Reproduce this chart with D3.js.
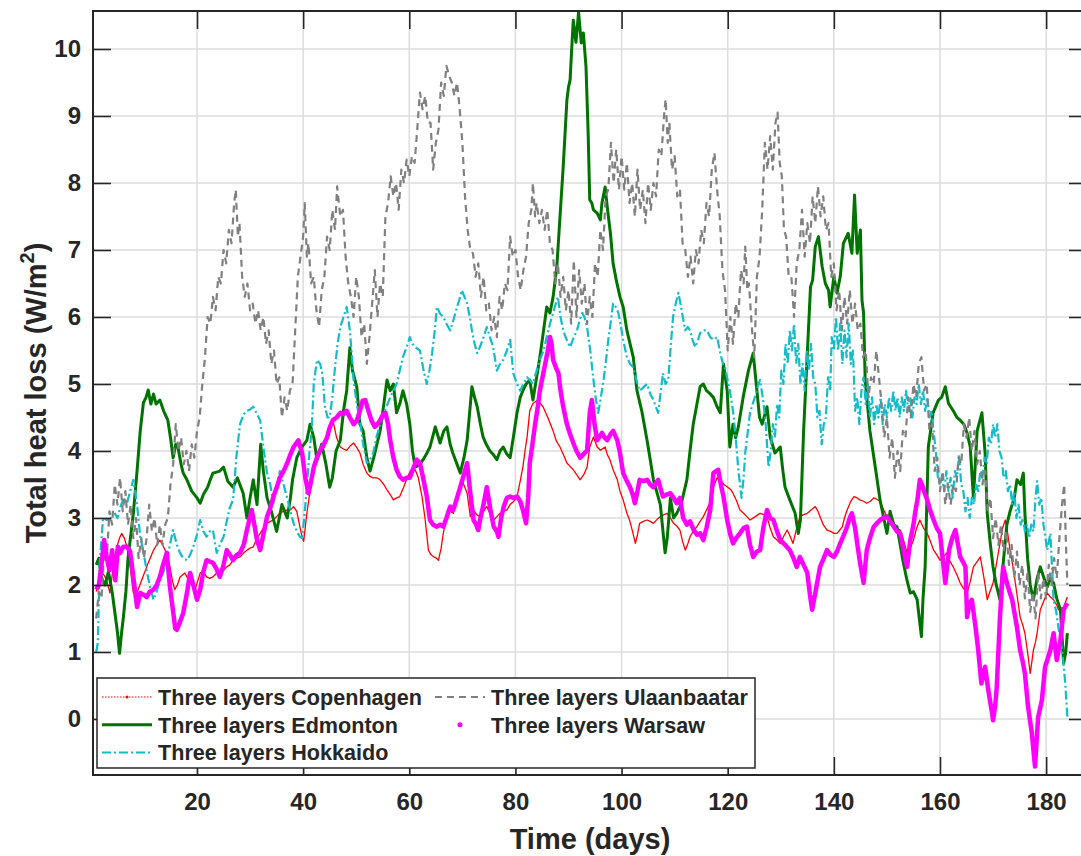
<!DOCTYPE html>
<html>
<head>
<meta charset="utf-8">
<script src="https://cdn.jsdelivr.net/npm/d3@7/dist/d3.min.js"></script>
<style>
  html, body { margin: 0; padding: 0; background: #ffffff; }
  svg { display: block; }
  text { font-family: "Liberation Sans", Arial, Helvetica, sans-serif; font-weight: bold; fill: #262626; }
</style>
</head>
<body>
<svg id="chart" width="1081" height="856"></svg>
<script>
// Daily total heat loss (W/m^2) over the heating season, [day, value] pairs
const copenhagen = [[1.0,1.9],[1.5,2.05],[2.0,2.2],[2.7,2.12],[3.2,2.0],[3.6,1.88],[4.2,2.27],[4.9,2.57],[5.4,2.7],[5.8,2.77],[6.3,2.7],[6.8,2.57],[7.4,2.27],[8.0,1.88],[8.5,1.85],[8.9,1.93],[9.8,2.12],[10.8,2.33],[11.8,2.52],[12.4,2.6],[13.0,2.67],[13.5,2.6],[14.0,2.52],[14.9,2.27],[15.4,2.05],[15.8,1.93],[16.3,2.0],[16.8,2.12],[17.7,2.18],[18.7,2.03],[19.6,1.93],[20.1,2.05],[20.6,2.18],[21.2,2.2],[21.8,2.12],[22.4,2.1],[23.0,2.12],[23.7,2.18],[24.3,2.18],[25.0,2.22],[25.6,2.27],[26.2,2.3],[26.8,2.37],[27.5,2.4],[28.1,2.42],[28.8,2.48],[29.4,2.52],[30.0,2.55],[30.6,2.57],[31.3,2.7],[31.9,2.77],[32.5,2.85],[33.2,2.92],[33.8,2.95],[34.4,2.97],[35.0,3.02],[35.6,3.07],[36.3,3.1],[37.0,3.12],[37.6,3.12],[38.2,3.17],[38.8,3.1],[39.3,2.9],[39.8,2.72],[40.1,2.65],[40.7,3.07],[41.3,3.4],[42.0,3.7],[42.6,3.85],[43.2,3.97],[43.9,4.05],[44.5,4.16],[45.0,4.3],[45.6,4.46],[46.3,4.2],[47.0,4.06],[47.6,4.03],[48.2,4.01],[48.9,4.08],[49.5,4.12],[50.1,4.05],[50.7,3.97],[51.3,3.8],[52.0,3.67],[52.6,3.62],[53.2,3.6],[53.9,3.6],[54.5,3.57],[55.2,3.5],[55.8,3.42],[56.4,3.35],[57.0,3.27],[57.6,3.3],[58.2,3.32],[58.9,3.45],[59.6,3.6],[60.2,3.7],[60.8,3.76],[61.2,3.7],[61.7,3.6],[62.4,3.32],[63.0,2.97],[63.6,2.52],[64.1,2.45],[64.6,2.42],[65.1,2.4],[65.5,2.37],[66.0,2.55],[66.4,2.77],[66.9,2.95],[67.4,3.12],[68.3,3.07],[69.0,3.37],[69.9,3.57],[70.4,3.47],[70.9,3.37],[71.5,3.02],[72.1,3.12],[72.7,3.05],[73.3,3.02],[74.0,3.1],[74.6,3.17],[75.3,3.05],[75.9,2.97],[76.5,3.02],[77.1,3.07],[77.8,3.1],[78.4,3.12],[79.0,3.2],[79.7,3.25],[80.3,3.32],[80.9,3.55],[81.4,3.76],[81.8,4.0],[82.2,4.21],[82.7,4.6],[83.3,4.71],[84.2,4.76],[85.2,4.66],[86.1,4.5],[87.1,4.3],[87.7,4.15],[88.4,4.06],[89.0,3.95],[89.7,3.82],[90.3,3.77],[90.9,3.72],[91.5,3.65],[92.2,3.57],[92.9,3.65],[93.5,3.76],[94.0,4.06],[94.7,4.21],[95.4,4.06],[96.0,4.01],[96.9,4.06],[97.3,3.95],[97.8,3.87],[98.5,3.7],[99.2,3.57],[99.7,3.4],[100.3,3.27],[101.0,3.07],[101.5,2.97],[102.0,2.82],[102.6,2.62],[103.0,2.75],[103.4,2.92],[104.1,2.95],[104.8,2.97],[105.4,2.95],[106.0,2.92],[106.7,2.98],[107.3,3.02],[108.0,3.05],[108.6,3.07],[109.2,3.0],[109.8,2.92],[110.4,2.88],[111.0,2.82],[111.5,2.65],[112.0,2.52],[112.5,2.62],[112.9,2.72],[113.5,2.8],[114.2,2.87],[114.8,2.95],[115.4,3.02],[116.0,3.12],[116.6,3.22],[117.3,3.46],[118.0,3.6],[118.6,3.57],[119.3,3.5],[120.0,3.46],[120.6,3.42],[121.0,3.37],[121.7,3.25],[122.3,3.12],[123.0,3.07],[123.6,3.02],[124.2,2.97],[125.2,3.02],[126.1,3.07],[126.8,3.05],[127.4,3.02],[128.0,2.85],[128.6,2.72],[129.3,2.67],[129.9,2.62],[130.5,2.72],[131.2,2.82],[131.8,2.72],[132.3,2.62],[133.0,2.85],[133.6,3.02],[134.3,3.05],[135.0,3.07],[135.7,3.12],[136.5,3.17],[137.0,3.1],[137.4,3.02],[138.0,2.9],[138.7,2.82],[139.4,2.8],[140.0,2.77],[140.6,2.77],[141.1,2.82],[141.6,2.87],[142.0,3.0],[142.5,3.12],[143.2,3.25],[143.8,3.32],[144.4,3.3],[144.9,3.27],[145.6,3.25],[146.2,3.22],[146.9,3.25],[147.5,3.3],[148.1,3.28],[148.7,3.25],[149.4,3.12],[150.0,3.02],[150.6,2.95],[151.3,2.9],[151.9,2.85],[152.5,2.82],[153.2,2.65],[153.8,2.48],[154.4,2.55],[155.0,2.67],[155.6,2.85],[156.2,2.97],[156.9,2.85],[157.6,2.77],[158.2,2.65],[158.8,2.52],[159.4,2.45],[160.0,2.37],[160.6,2.42],[161.3,2.48],[161.9,2.35],[162.5,2.27],[163.2,2.15],[163.8,2.03],[164.4,1.95],[165.1,1.88],[165.7,2.05],[166.3,2.27],[167.0,2.35],[167.6,2.42],[168.3,2.1],[168.9,1.78],[169.4,1.9],[170.0,2.03],[170.6,2.3],[171.3,2.62],[171.8,2.85],[172.3,2.97],[172.8,2.75],[173.2,2.52],[173.7,2.3],[174.2,2.03],[174.7,1.75],[175.1,1.52],[175.6,1.4],[176.0,1.28],[176.5,1.0],[177.0,0.68],[177.3,0.85],[177.6,1.03],[178.0,1.15],[178.3,1.28],[178.9,1.63],[179.5,1.75],[180.2,1.88],[180.8,1.82],[181.4,1.78],[182.0,1.7],[182.3,1.63],[182.8,1.65],[183.3,1.67],[184.0,1.82]];

const edmonton = [[1.0,2.3],[1.5,2.4],[2.0,2.1],[2.7,2.0],[3.3,2.2],[4.0,1.9],[4.5,1.6],[5.0,1.3],[5.4,0.98],[5.8,1.3],[6.1,1.5],[6.6,1.9],[7.0,2.4],[7.6,2.8],[8.0,3.07],[8.7,3.7],[9.3,4.3],[9.9,4.72],[10.4,4.8],[10.8,4.91],[11.3,4.7],[11.8,4.85],[12.3,4.7],[13.0,4.76],[13.7,4.6],[14.5,4.46],[15.0,4.2],[15.5,3.9],[16.0,4.1],[16.4,4.06],[17.0,3.8],[17.4,3.67],[18.1,3.57],[19.0,3.4],[20.0,3.3],[20.6,3.22],[21.2,3.35],[22.0,3.46],[22.5,3.57],[23.0,3.67],[24.3,3.7],[25.0,3.76],[25.8,3.55],[26.8,3.46],[27.6,3.6],[28.7,3.37],[29.4,3.0],[30.0,3.3],[30.6,3.57],[31.3,3.2],[32.0,4.1],[32.5,3.7],[33.2,3.3],[34.0,3.1],[35.0,2.8],[36.0,3.2],[37.0,3.0],[37.6,3.3],[38.0,3.57],[38.8,3.9],[39.8,4.06],[40.7,4.16],[41.3,4.4],[42.0,4.2],[42.6,3.87],[43.5,4.1],[44.3,3.8],[45.0,3.46],[45.5,3.6],[46.2,4.0],[47.0,4.16],[47.6,4.6],[48.2,4.9],[48.8,5.54],[49.3,5.2],[50.1,4.96],[50.7,4.4],[51.3,4.3],[52.0,3.9],[52.6,3.7],[53.3,3.9],[54.5,4.3],[55.2,4.7],[55.8,5.06],[56.4,4.9],[57.0,5.0],[57.6,4.57],[58.2,4.7],[58.8,4.9],[59.5,4.7],[60.1,4.4],[60.6,4.0],[61.1,3.76],[62.0,3.8],[62.6,3.87],[63.2,3.95],[63.9,4.06],[64.9,4.36],[65.8,4.12],[66.5,4.3],[67.1,4.36],[67.7,4.1],[68.2,3.97],[69.0,3.8],[69.6,3.67],[70.3,3.9],[70.9,4.16],[71.4,4.6],[71.8,4.96],[72.3,4.8],[72.8,4.66],[73.4,4.4],[73.9,4.21],[74.5,4.1],[75.2,4.0],[75.8,3.95],[76.5,3.87],[77.1,4.0],[77.7,4.06],[78.4,3.95],[79.0,3.9],[79.6,4.2],[80.3,4.57],[80.9,4.8],[81.4,4.9],[82.0,5.0],[82.7,5.06],[83.3,4.76],[84.0,5.1],[84.6,5.4],[85.3,5.8],[85.9,6.15],[86.5,6.06],[87.1,6.3],[87.8,6.75],[88.4,7.5],[89.0,8.24],[89.7,9.24],[90.0,9.43],[90.3,9.54],[90.6,10.0],[90.9,10.43],[91.4,10.1],[91.9,10.55],[92.4,10.09],[92.8,10.24],[93.3,9.73],[93.7,8.75],[94.0,7.75],[94.4,7.7],[94.7,7.6],[95.4,7.55],[96.0,7.45],[96.3,7.7],[96.9,7.94],[97.3,7.64],[97.9,7.25],[98.4,6.8],[99.0,6.55],[99.7,6.3],[100.3,6.15],[101.0,5.8],[101.6,5.6],[102.2,5.4],[102.9,4.9],[103.8,4.6],[104.8,4.16],[105.4,3.87],[106.0,3.57],[106.7,3.37],[107.3,3.2],[107.8,2.8],[108.2,2.48],[108.6,2.7],[109.2,3.3],[109.8,3.0],[110.4,3.07],[111.2,3.2],[111.8,3.4],[112.3,3.57],[112.9,4.0],[113.5,4.4],[114.2,4.7],[114.8,4.96],[115.4,5.0],[116.0,4.9],[116.6,4.86],[117.3,4.8],[118.0,4.66],[118.6,4.57],[119.2,5.3],[119.9,4.9],[120.4,4.06],[121.0,4.4],[121.5,4.2],[122.0,4.36],[122.9,4.8],[123.9,5.2],[124.8,5.46],[125.5,4.9],[126.0,4.5],[126.5,4.4],[127.4,4.66],[128.0,4.21],[128.9,3.97],[129.9,4.06],[130.4,3.7],[130.8,3.46],[131.7,3.27],[132.7,3.07],[133.3,2.77],[133.7,2.97],[134.3,4.3],[135.0,5.46],[135.6,6.45],[136.0,6.55],[136.5,7.05],[137.1,7.2],[137.8,6.75],[138.4,6.5],[139.0,6.4],[139.3,6.15],[140.0,6.6],[140.6,6.36],[141.2,6.6],[141.8,7.1],[142.7,7.25],[143.4,6.95],[143.9,7.82],[144.4,6.95],[145.0,7.3],[145.3,6.25],[145.6,6.06],[145.9,5.06],[146.8,4.3],[147.8,3.76],[148.7,3.27],[149.4,3.0],[150.0,2.77],[150.6,3.1],[151.3,2.9],[151.9,2.87],[152.5,2.6],[153.0,2.37],[153.7,2.1],[154.4,1.88],[155.0,1.9],[155.7,1.78],[156.1,1.5],[156.5,1.23],[156.8,1.8],[157.2,2.27],[157.8,4.06],[158.7,4.57],[159.7,4.76],[160.3,4.8],[161.0,4.96],[161.6,4.71],[162.5,4.6],[163.2,4.5],[163.8,4.46],[164.5,4.4],[165.1,4.27],[165.7,4.06],[166.3,3.3],[167.0,4.3],[167.9,4.57],[168.5,3.97],[168.9,3.07],[169.5,2.6],[170.0,2.27],[170.6,2.0],[171.3,1.78],[172.0,2.4],[172.6,2.9],[173.2,3.1],[174.0,3.3],[174.5,3.57],[175.2,3.5],[175.7,3.67],[176.0,3.07],[176.5,2.4],[177.0,2.0],[177.6,1.78],[178.3,2.1],[178.9,2.27],[179.6,2.1],[180.2,1.97],[180.8,2.1],[181.4,2.03],[182.0,1.8],[182.7,1.63],[183.3,0.83],[183.7,1.0],[184.0,1.28]];

const hokkaido = [[1.0,1.0],[1.3,1.13],[1.7,2.37],[2.3,3.0],[3.0,2.97],[3.6,2.97],[4.3,3.1],[5.0,3.0],[5.5,3.15],[6.2,3.3],[6.8,3.22],[7.4,3.4],[8.0,3.57],[8.7,3.2],[9.3,2.72],[10.0,2.45],[10.5,2.22],[11.2,1.95],[11.8,1.78],[12.4,1.9],[13.0,2.07],[13.7,2.2],[14.3,2.37],[14.9,2.6],[15.5,2.82],[16.2,2.6],[16.8,2.48],[17.4,2.4],[18.1,2.37],[18.7,2.45],[19.3,2.57],[20.0,2.75],[20.6,2.97],[21.2,2.8],[21.8,2.72],[22.4,2.8],[23.0,2.82],[23.7,2.48],[24.3,2.6],[25.0,2.72],[25.6,2.95],[26.2,3.16],[26.8,3.27],[27.4,3.9],[28.1,4.4],[28.8,4.55],[29.4,4.6],[30.0,4.62],[30.6,4.66],[31.3,4.55],[31.9,4.46],[32.5,4.06],[33.2,3.67],[33.8,3.5],[34.4,3.22],[35.0,3.45],[35.6,3.7],[36.3,3.5],[37.0,3.3],[37.6,3.1],[38.2,2.92],[38.8,2.8],[39.4,2.72],[39.8,2.7],[40.2,3.0],[40.7,3.46],[41.2,4.0],[41.6,4.3],[42.0,5.0],[42.6,5.36],[43.2,5.3],[43.6,5.16],[44.1,4.66],[44.6,4.5],[45.0,4.5],[45.5,4.8],[46.0,5.25],[46.5,5.6],[47.0,5.85],[47.6,6.0],[48.2,6.15],[48.8,5.8],[49.2,5.4],[49.5,5.06],[50.1,4.7],[50.7,4.46],[51.3,4.1],[52.0,3.82],[52.6,3.87],[53.2,3.97],[53.8,4.2],[54.5,4.4],[55.4,4.6],[56.4,4.8],[57.0,4.9],[57.6,5.0],[58.2,5.2],[58.8,5.4],[59.5,5.55],[60.1,5.7],[60.6,5.6],[61.1,5.55],[62.0,5.5],[62.7,5.2],[63.3,5.0],[63.8,5.2],[64.3,5.46],[64.8,5.8],[65.2,6.15],[65.8,6.05],[66.4,6.0],[67.0,5.9],[67.7,5.8],[68.3,5.95],[69.0,6.15],[69.4,6.25],[69.9,6.4],[70.4,6.3],[70.9,6.2],[71.4,6.0],[71.8,5.8],[72.3,5.6],[72.8,5.46],[73.3,5.55],[74.0,5.7],[74.6,5.85],[75.2,5.7],[75.8,5.55],[76.5,5.2],[77.1,5.3],[77.7,5.36],[78.4,5.5],[79.0,5.66],[79.6,5.16],[80.3,5.0],[80.9,4.9],[81.5,5.0],[82.2,5.1],[82.8,5.05],[83.3,5.0],[84.0,5.2],[84.6,5.36],[85.3,5.5],[85.9,5.7],[86.5,5.9],[87.1,6.06],[87.6,6.2],[88.0,6.3],[88.5,6.0],[89.0,5.8],[89.7,5.65],[90.3,5.55],[91.0,5.7],[91.6,5.8],[92.1,5.95],[92.6,6.06],[93.0,6.0],[93.5,5.85],[94.1,5.5],[94.7,5.06],[95.2,4.75],[95.6,4.57],[96.1,4.8],[96.6,5.06],[97.0,5.3],[97.5,5.66],[98.0,5.95],[98.4,6.2],[98.9,6.15],[99.4,6.06],[99.9,5.85],[100.3,5.66],[101.0,5.4],[101.6,5.3],[102.2,5.25],[102.8,5.05],[103.4,4.9],[104.1,4.95],[104.8,5.0],[105.4,4.85],[106.0,4.76],[106.5,4.65],[106.9,4.57],[107.4,4.9],[107.8,5.16],[108.3,5.0],[108.8,5.06],[109.2,5.5],[109.7,6.0],[110.2,6.2],[110.7,6.36],[111.1,6.2],[111.4,6.06],[112.0,5.8],[112.5,5.85],[112.9,5.8],[113.4,5.65],[113.9,5.55],[114.4,5.65],[114.8,5.76],[115.5,5.8],[116.1,5.8],[116.7,5.7],[117.3,5.66],[118.0,5.7],[118.6,5.46],[119.1,5.3],[119.5,5.25],[120.0,5.05],[120.4,4.9],[121.0,4.6],[121.4,4.3],[122.0,3.72],[122.6,3.3],[123.0,3.6],[123.3,3.97],[123.8,4.3],[124.2,4.57],[124.7,4.7],[125.1,4.8],[125.6,4.95],[126.1,5.06],[126.6,4.8],[127.1,4.46],[127.7,3.76],[128.1,4.0],[128.5,4.4],[128.9,4.2],[129.3,4.7],[129.7,4.5],[130.1,5.2],[130.5,5.0],[130.9,5.6],[131.3,5.3],[131.7,5.8],[132.1,5.5],[132.5,5.9],[132.9,5.3],[133.3,5.6],[133.7,5.0],[134.1,5.3],[134.5,4.9],[134.9,5.5],[135.3,5.2],[135.7,5.6],[136.1,5.1],[136.5,5.0],[136.9,4.5],[137.3,4.6],[137.7,4.1],[138.1,4.4],[138.5,4.5],[138.9,5.1],[139.3,4.9],[139.6,5.7],[140.0,5.5],[140.4,6.0],[140.8,5.5],[141.2,5.9],[141.6,5.3],[142.0,5.8],[142.4,5.4],[142.8,5.9],[143.2,5.3],[143.6,5.5],[144.0,4.6],[144.4,4.8],[144.8,4.4],[145.2,4.9],[145.6,5.1],[146.0,4.7],[146.4,5.0],[146.8,4.5],[147.2,4.8],[147.6,4.4],[148.0,4.7],[148.4,4.5],[148.8,4.8],[149.2,4.4],[149.6,4.7],[150.0,4.5],[150.4,4.8],[150.8,4.6],[151.2,4.9],[151.6,4.6],[152.0,4.8],[152.4,4.5],[152.8,4.8],[153.2,4.6],[153.6,4.9],[154.0,4.6],[154.4,4.8],[154.8,4.5],[155.2,4.8],[155.6,4.7],[156.0,5.0],[156.4,4.7],[156.8,4.9],[157.2,4.6],[157.6,4.8],[158.0,4.5],[158.4,4.6],[158.8,4.3],[159.2,4.0],[159.6,3.6],[160.0,3.5],[160.4,3.6],[160.8,3.4],[161.2,3.7],[161.6,3.4],[162.0,3.6],[162.4,3.3],[162.8,3.7],[163.2,3.6],[163.6,3.95],[164.0,3.5],[164.4,3.4],[164.8,3.1],[165.2,3.3],[165.6,3.0],[166.0,3.3],[166.4,3.2],[166.8,3.5],[167.2,3.4],[167.6,3.7],[168.0,3.6],[168.4,3.9],[168.8,3.8],[169.2,4.2],[169.6,4.1],[170.0,4.4],[170.4,4.2],[170.8,4.4],[171.2,4.0],[171.6,3.9],[172.0,3.6],[172.4,3.7],[172.8,3.4],[173.2,3.5],[173.6,3.2],[174.0,3.4],[174.4,3.0],[174.8,3.2],[175.2,2.9],[175.6,3.0],[176.0,2.8],[176.4,2.9],[176.8,2.7],[177.2,2.9],[177.6,2.8],[178.0,3.3],[178.3,3.55],[178.7,3.2],[179.1,3.3],[179.5,2.9],[180.2,2.52],[180.8,2.77],[181.4,1.78],[181.9,1.6],[182.3,1.37],[182.7,1.2],[183.0,1.03],[183.3,0.8],[183.6,0.53],[184.0,0.03]];

const ulaanbaatar = [[1.0,1.5],[1.5,1.9],[2.0,1.8],[2.5,2.5],[3.0,2.4],[3.5,3.1],[4.0,2.9],[4.5,3.5],[5.0,3.2],[5.5,3.6],[6.0,3.1],[6.5,3.4],[7.0,2.9],[7.5,3.2],[8.0,2.7],[8.5,3.0],[9.0,2.4],[9.5,2.7],[10.0,2.4],[10.5,2.7],[11.0,3.2],[11.5,2.8],[12.0,3.0],[12.5,2.6],[13.0,2.9],[13.5,2.6],[14.0,2.9],[14.5,3.0],[15.0,3.5],[15.5,3.8],[16.0,4.4],[16.5,4.0],[17.0,4.2],[17.5,3.8],[18.0,4.0],[18.5,3.7],[19.0,4.1],[19.5,3.9],[20.0,4.3],[20.5,4.5],[21.0,5.0],[21.5,5.4],[22.0,6.0],[22.5,5.9],[23.0,6.3],[23.5,6.1],[24.0,6.6],[24.5,6.5],[25.0,7.0],[25.5,6.8],[26.0,7.3],[26.5,7.1],[27.0,7.7],[27.3,7.9],[27.7,7.2],[28.0,7.4],[28.5,6.6],[29.0,6.3],[29.5,6.5],[30.0,6.1],[30.5,6.2],[31.0,5.9],[31.5,6.1],[32.0,5.8],[32.5,6.0],[33.0,5.6],[33.5,5.8],[34.0,5.3],[34.5,5.5],[35.0,5.0],[35.5,5.1],[36.0,4.5],[36.5,4.8],[37.0,4.6],[37.5,4.9],[38.0,5.0],[38.5,5.8],[39.0,6.6],[39.5,6.9],[40.0,7.2],[40.3,7.7],[40.7,6.9],[41.0,7.1],[41.5,6.5],[42.0,6.6],[42.5,6.1],[43.0,5.85],[43.5,6.4],[44.0,6.6],[44.5,7.2],[45.0,7.0],[45.5,7.6],[46.0,7.3],[46.4,7.95],[47.0,7.5],[47.5,7.6],[48.0,6.9],[48.5,6.5],[49.0,6.3],[49.5,6.0],[50.0,6.6],[50.5,6.3],[51.0,5.7],[51.5,5.9],[52.0,5.3],[52.5,5.7],[53.0,6.2],[53.5,6.7],[54.0,6.0],[54.5,6.5],[55.0,6.3],[55.5,7.5],[56.0,7.7],[56.5,8.1],[57.0,7.8],[57.5,8.0],[58.0,7.6],[58.5,8.2],[59.0,8.0],[59.5,8.35],[60.0,8.1],[60.5,8.4],[61.0,8.3],[61.5,8.8],[62.0,9.35],[62.5,9.1],[63.0,9.3],[63.5,8.9],[64.0,8.9],[64.5,8.2],[65.0,8.6],[65.5,8.8],[66.0,9.5],[66.5,9.3],[67.0,9.75],[67.5,9.6],[68.0,9.5],[68.5,9.3],[69.0,9.5],[69.5,9.1],[70.0,8.6],[70.5,7.8],[71.0,7.3],[71.5,7.0],[72.0,6.95],[72.5,6.6],[73.0,6.8],[73.5,6.3],[74.0,6.6],[74.5,6.1],[75.0,6.2],[75.5,5.8],[76.0,6.0],[76.5,5.7],[77.0,6.3],[77.5,6.1],[78.0,6.5],[78.5,6.4],[79.0,7.2],[79.5,6.9],[80.0,7.0],[80.5,6.6],[81.0,6.4],[81.5,6.7],[82.0,6.9],[82.5,7.4],[83.0,7.6],[83.3,8.0],[83.7,7.5],[84.0,7.7],[84.5,7.4],[85.0,7.6],[85.5,7.3],[86.0,7.6],[86.5,7.1],[87.0,7.0],[87.5,6.5],[88.0,6.8],[88.5,6.3],[89.0,6.6],[89.5,6.1],[90.0,6.4],[90.5,5.9],[91.0,6.85],[91.5,6.0],[92.0,6.7],[92.5,6.2],[93.0,6.5],[93.5,5.9],[94.0,6.3],[94.5,6.0],[95.0,6.8],[95.5,6.6],[96.0,7.3],[96.5,7.0],[97.0,7.8],[97.5,7.9],[98.0,8.6],[98.5,8.0],[99.0,8.5],[99.5,7.9],[100.0,8.4],[100.5,7.9],[101.0,8.3],[101.5,7.7],[102.0,8.0],[102.5,7.5],[103.0,8.2],[103.5,7.6],[104.0,7.9],[104.5,7.4],[105.0,8.0],[105.5,7.6],[106.0,8.0],[106.5,7.8],[107.0,8.5],[107.5,8.4],[108.0,9.0],[108.3,9.25],[108.7,8.6],[109.0,8.9],[109.5,8.2],[110.0,8.4],[110.5,7.8],[111.0,7.9],[111.5,7.1],[112.0,7.0],[112.5,6.6],[113.0,6.9],[113.5,6.5],[114.0,7.0],[114.5,6.8],[115.0,7.3],[115.5,7.1],[116.0,7.7],[116.5,7.5],[117.0,8.2],[117.5,8.45],[118.0,7.9],[118.5,7.5],[119.0,6.7],[119.5,6.4],[120.0,5.5],[120.5,6.0],[121.0,5.6],[121.5,6.2],[122.0,6.0],[122.5,6.7],[123.0,6.5],[123.3,7.05],[123.7,6.4],[124.0,6.5],[124.5,5.9],[125.0,5.4],[125.5,6.6],[126.0,6.9],[126.5,7.6],[127.0,8.6],[127.5,8.2],[128.0,8.7],[128.5,8.2],[129.0,8.9],[129.4,9.05],[129.8,8.3],[130.2,8.1],[130.6,7.3],[131.0,7.2],[131.5,6.6],[132.0,6.6],[132.5,6.0],[133.0,6.8],[133.5,7.0],[134.0,7.6],[134.5,6.9],[135.0,7.4],[135.5,7.1],[136.0,7.8],[136.5,7.4],[137.0,7.95],[137.5,7.5],[138.0,7.8],[138.5,7.3],[139.0,7.4],[139.5,6.6],[140.0,6.8],[140.5,6.1],[141.0,6.4],[141.5,5.8],[142.0,6.3],[142.5,5.9],[143.0,6.4],[143.5,5.9],[144.0,6.2],[144.5,5.8],[145.0,5.9],[145.5,5.4],[146.0,5.5],[146.5,4.8],[147.0,5.1],[147.5,5.0],[148.0,5.5],[148.5,5.1],[149.0,4.7],[149.5,4.2],[150.0,4.5],[150.5,3.9],[151.0,4.2],[151.5,3.6],[152.0,4.0],[152.5,3.7],[153.0,4.3],[153.5,4.2],[154.0,4.8],[154.5,4.5],[155.0,5.0],[155.5,4.8],[156.0,5.3],[156.5,5.4],[157.0,4.9],[157.5,5.0],[158.0,4.3],[158.5,4.4],[159.0,3.7],[159.5,3.9],[160.0,3.4],[160.5,3.7],[161.0,3.2],[161.5,3.5],[162.0,3.2],[162.5,3.5],[163.0,3.4],[163.5,3.9],[164.0,3.8],[164.5,4.4],[165.0,4.2],[165.5,4.5],[166.0,4.0],[166.5,4.3],[167.0,3.8],[167.5,4.0],[168.0,3.5],[168.5,3.7],[169.0,3.1],[169.5,3.3],[170.0,2.7],[170.5,3.0],[171.0,2.6],[171.5,2.9],[172.0,2.5],[172.5,2.8],[173.0,2.3],[173.5,2.6],[174.0,2.1],[174.5,2.5],[175.0,2.0],[175.5,2.3],[176.0,1.8],[176.5,2.2],[177.0,1.6],[177.5,1.9],[178.0,1.5],[178.5,2.2],[179.0,1.8],[179.5,2.1],[180.0,1.8],[180.5,2.3],[181.0,2.0],[181.5,2.4],[182.0,2.1],[182.5,2.7],[183.0,3.2],[183.4,3.5],[183.7,2.7],[184.0,2.0]];

const warsaw = [[1.0,1.93],[1.5,2.0],[2.0,2.3],[2.5,2.67],[3.0,2.4],[3.5,2.22],[4.0,2.52],[4.6,2.07],[5.1,2.57],[5.5,2.48],[6.1,2.57],[6.8,2.57],[7.4,2.5],[8.0,2.12],[8.7,1.67],[9.3,1.88],[10.0,1.85],[10.5,1.82],[11.1,1.9],[11.8,1.93],[12.4,2.0],[13.0,2.12],[13.6,2.3],[14.3,2.48],[14.9,1.97],[15.5,1.6],[15.9,1.35],[16.2,1.33],[16.8,1.45],[17.4,1.58],[18.1,1.88],[18.7,2.18],[19.3,2.0],[20.0,1.78],[20.6,1.93],[21.2,2.2],[21.8,2.37],[22.4,2.35],[23.0,2.33],[23.6,2.25],[24.3,2.12],[25.0,2.3],[25.6,2.52],[26.2,2.45],[26.8,2.37],[27.5,2.45],[28.1,2.48],[28.8,2.6],[29.4,2.82],[30.3,3.12],[30.8,2.9],[31.3,2.67],[31.9,2.52],[32.5,2.75],[33.2,3.02],[33.8,3.15],[34.4,3.32],[35.0,3.45],[35.6,3.6],[36.3,3.7],[37.0,3.82],[37.6,3.95],[38.2,4.06],[39.1,4.16],[39.8,3.97],[40.4,3.6],[41.0,3.37],[41.5,3.55],[42.0,3.76],[42.6,3.9],[43.2,4.01],[43.9,4.1],[44.5,4.2],[45.0,4.35],[45.6,4.46],[46.3,4.5],[47.0,4.57],[47.6,4.55],[48.2,4.6],[48.8,4.5],[49.5,4.4],[50.1,4.45],[50.7,4.6],[51.2,4.75],[51.7,4.76],[52.3,4.6],[52.9,4.45],[53.5,4.36],[54.0,4.4],[54.5,4.46],[55.1,4.55],[55.5,4.57],[56.0,4.4],[56.4,4.16],[57.0,3.9],[57.6,3.72],[58.2,3.62],[58.8,3.57],[59.5,3.6],[60.1,3.6],[60.8,3.75],[61.4,3.87],[62.0,3.82],[62.6,3.6],[63.3,3.32],[63.9,2.97],[64.5,2.9],[65.2,2.87],[65.8,2.9],[66.4,2.87],[67.0,3.0],[67.7,3.17],[68.3,3.12],[69.0,3.3],[69.6,3.46],[70.3,3.65],[70.9,3.82],[71.5,3.37],[72.1,2.97],[72.6,2.9],[73.0,2.82],[73.4,3.0],[73.9,3.17],[74.6,3.46],[75.3,3.12],[75.9,2.87],[76.5,2.8],[76.8,2.72],[77.3,3.0],[77.8,3.17],[78.4,3.3],[79.0,3.32],[79.6,3.3],[80.3,3.32],[80.9,3.25],[81.4,3.12],[82.0,2.92],[82.4,3.3],[82.7,3.82],[83.2,4.1],[83.7,4.4],[84.2,4.65],[84.6,4.9],[85.1,5.1],[85.6,5.3],[86.1,5.5],[86.5,5.7],[86.8,5.6],[87.1,5.36],[87.6,5.25],[88.1,5.16],[88.5,4.9],[89.0,4.66],[89.7,4.4],[90.3,4.25],[90.9,4.12],[91.5,4.0],[92.2,3.9],[92.8,3.95],[93.5,4.01],[94.0,4.57],[94.4,4.76],[94.9,4.4],[95.4,4.16],[96.3,4.27],[96.8,4.2],[97.3,4.16],[97.9,4.25],[98.4,4.3],[99.2,4.16],[99.7,3.97],[100.3,3.67],[101.0,3.55],[101.6,3.46],[102.1,3.35],[102.5,3.22],[103.0,3.4],[103.4,3.57],[104.1,3.55],[104.8,3.57],[105.4,3.5],[106.0,3.46],[106.9,3.57],[107.3,3.45],[107.8,3.32],[108.5,3.35],[109.2,3.37],[109.8,3.3],[110.4,3.22],[111.0,3.3],[111.6,3.0],[112.3,2.9],[112.9,2.95],[113.6,2.82],[114.2,2.75],[114.8,2.77],[115.4,2.67],[116.0,2.85],[116.7,3.12],[117.3,3.67],[117.8,3.7],[118.2,3.72],[118.7,3.5],[119.2,3.32],[119.9,2.97],[120.5,2.75],[121.0,2.62],[121.6,2.7],[122.3,2.77],[123.0,2.85],[123.6,2.87],[124.2,2.6],[124.8,2.42],[125.5,2.5],[126.1,2.52],[126.7,2.85],[127.4,3.12],[128.0,3.0],[128.6,2.97],[129.3,2.8],[129.9,2.67],[130.8,2.6],[131.7,2.52],[132.4,2.4],[133.0,2.27],[133.6,2.42],[134.3,2.3],[135.0,2.18],[135.5,1.85],[135.9,1.63],[136.5,1.88],[137.0,2.1],[137.4,2.27],[138.1,2.4],[138.7,2.52],[139.4,2.45],[140.0,2.42],[140.6,2.5],[141.2,2.62],[141.9,2.75],[142.5,2.87],[143.0,3.0],[143.4,3.07],[144.0,2.85],[144.4,2.62],[145.0,2.3],[145.6,2.03],[146.2,2.52],[146.8,2.7],[147.5,2.87],[148.1,2.92],[148.7,2.97],[149.3,3.0],[150.0,3.02],[150.6,2.95],[151.3,2.87],[151.9,2.8],[152.5,2.77],[153.2,2.5],[153.8,2.27],[154.4,2.67],[155.0,2.9],[155.3,3.07],[155.8,3.3],[156.2,3.57],[156.6,3.5],[157.0,3.4],[157.6,3.27],[158.2,3.1],[158.8,2.97],[159.4,2.85],[160.0,2.77],[160.5,2.4],[161.0,2.03],[161.7,2.52],[162.3,2.7],[162.9,2.82],[163.4,2.6],[163.8,2.42],[164.3,2.35],[164.8,2.27],[165.1,1.52],[165.5,1.7],[166.0,1.78],[166.7,1.37],[167.2,1.03],[167.8,0.53],[168.5,0.78],[169.1,0.43],[169.8,0.09],[170.0,-0.02],[170.4,0.2],[170.7,0.48],[171.3,1.52],[171.9,2.27],[172.6,2.03],[173.1,1.9],[173.6,1.78],[174.5,1.37],[175.1,1.03],[175.6,0.85],[176.0,0.68],[176.6,0.18],[177.3,-0.21],[177.9,-0.71],[178.5,0.03],[179.2,0.28],[179.8,0.78],[180.3,0.9],[180.8,1.03],[181.4,1.28],[182.0,0.88],[182.7,1.18],[183.3,1.63],[184.0,1.73]];

const xTicks = [20, 40, 60, 80, 100, 120, 140, 160, 180];
const yTicks = [0, 1, 2, 3, 4, 5, 6, 7, 8, 9, 10];

const svg = d3.select("#chart");
const plot = { left: 93, top: 11, right: 1087, bottom: 775 };

const x = d3.scaleLinear().domain([0.4, 187.7]).range([plot.left, plot.right]);
const y = d3.scaleLinear().domain([-0.836, 10.567]).range([plot.bottom, plot.top]);

svg.append("defs").append("clipPath").attr("id", "plotClip")
  .append("rect")
  .attr("x", plot.left).attr("y", plot.top)
  .attr("width", plot.right - plot.left).attr("height", plot.bottom - plot.top);

// grid
const grid = svg.append("g").attr("class", "grid");
grid.selectAll("line.gx").data(xTicks).join("line")
  .attr("x1", d => x(d)).attr("x2", d => x(d))
  .attr("y1", plot.top).attr("y2", plot.bottom)
  .attr("stroke", "#dcdcdc").attr("stroke-width", 1.5);
grid.selectAll("line.gy").data(yTicks).join("line")
  .attr("x1", plot.left).attr("x2", plot.right)
  .attr("y1", d => y(d)).attr("y2", d => y(d))
  .attr("stroke", "#dcdcdc").attr("stroke-width", 1.5);

// series
const series = [
  { name: "Three layers Copenhagen", data: copenhagen, color: "#ff0000", width: 1.3, dash: null },
  { name: "Three layers Edmonton", data: edmonton, color: "#007300", width: 3, dash: null },
  { name: "Three layers Hokkaido", data: hokkaido, color: "#12bccb", width: 2.2, dash: "9,3,2,3" },
  { name: "Three layers Ulaanbaatar", data: ulaanbaatar, color: "#808080", width: 2.2, dash: "7,5" },
  { name: "Three layers Warsaw", data: warsaw, color: "#ff00ff", width: 4.5, dash: null }
];

const line = d3.line().x(d => x(d[0])).y(d => y(d[1]));
const lines = svg.append("g").attr("clip-path", "url(#plotClip)");
lines.selectAll("path").data(series).join("path")
  .attr("d", d => line(d.data))
  .attr("fill", "none")
  .attr("stroke", d => d.color)
  .attr("stroke-width", d => d.width)
  .attr("stroke-linejoin", "round")
  .attr("stroke-linecap", "butt")
  .attr("stroke-dasharray", d => d.dash);

// axes with inward ticks on all four sides
const axisColor = "#262626";
const tickLen = 18;
const axes = svg.append("g");
axes.append("g").attr("transform", `translate(0,${plot.bottom})`)
  .call(d3.axisBottom(x).tickValues(xTicks).tickSizeInner(-tickLen).tickSizeOuter(0).tickPadding(18))
  .call(g => g.select(".domain").remove())
  .call(g => g.selectAll("line").attr("stroke", axisColor).attr("stroke-width", 1.6))
  .call(g => g.selectAll("text").attr("font-size", 24).attr("fill", axisColor).attr("font-family", null));
axes.append("g").attr("transform", `translate(0,${plot.top})`)
  .call(d3.axisTop(x).tickValues(xTicks).tickSizeInner(-tickLen).tickSizeOuter(0).tickFormat(""))
  .call(g => g.select(".domain").remove())
  .call(g => g.selectAll("line").attr("stroke", axisColor).attr("stroke-width", 1.6));
axes.append("g").attr("transform", `translate(${plot.left},0)`)
  .call(d3.axisLeft(y).tickValues(yTicks).tickSizeInner(-tickLen).tickSizeOuter(0).tickPadding(12))
  .call(g => g.select(".domain").remove())
  .call(g => g.selectAll("line").attr("stroke", axisColor).attr("stroke-width", 1.6))
  .call(g => g.selectAll("text").attr("font-size", 24).attr("fill", axisColor).attr("font-family", null));
axes.append("g").attr("transform", `translate(${plot.right},0)`)
  .call(d3.axisRight(y).tickValues(yTicks).tickSizeInner(-tickLen).tickSizeOuter(0).tickFormat(""))
  .call(g => g.select(".domain").remove())
  .call(g => g.selectAll("line").attr("stroke", axisColor).attr("stroke-width", 1.6));

svg.append("rect")
  .attr("x", plot.left).attr("y", plot.top)
  .attr("width", plot.right - plot.left).attr("height", plot.bottom - plot.top)
  .attr("fill", "none").attr("stroke", axisColor).attr("stroke-width", 2);

// axis titles
svg.append("text")
  .attr("x", (plot.left + plot.right) / 2).attr("y", 849)
  .attr("text-anchor", "middle").attr("font-size", 29)
  .text("Time (days)");

const yTitle = svg.append("text")
  .attr("transform", `translate(46,${(plot.top + plot.bottom) / 2}) rotate(-90)`)
  .attr("text-anchor", "middle").attr("font-size", 29);
yTitle.append("tspan").text("Total heat loss (W/m");
yTitle.append("tspan").attr("font-size", 20).attr("dy", -12).text("2");
yTitle.append("tspan").attr("dy", 12).text(")");

// legend
const legend = svg.append("g");
legend.append("rect")
  .attr("x", 97).attr("y", 678).attr("width", 658).attr("height", 90)
  .attr("fill", "#ffffff").attr("stroke", "#262626").attr("stroke-width", 1.5);

const legendPos = [
  { x0: 102, row: 0 }, { x0: 102, row: 1 }, { x0: 102, row: 2 },
  { x0: 435, row: 0 }, { x0: 435, row: 1 }
];
const rowY = r => 697 + r * 27.8;

series.forEach((s, i) => {
  const p = legendPos[i];
  const ly = rowY(p.row);
  const g = legend.append("g");
  if (s.name.endsWith("Warsaw")) {
    g.append("circle").attr("cx", p.x0 + 25).attr("cy", ly).attr("r", 2.5).attr("fill", s.color);
  } else if (s.name.endsWith("Copenhagen")) {
    g.append("line").attr("x1", p.x0).attr("x2", p.x0 + 50).attr("y1", ly).attr("y2", ly)
      .attr("stroke", s.color).attr("stroke-width", 1).attr("stroke-dasharray", "1.5,1.5");
    g.append("circle").attr("cx", p.x0 + 25).attr("cy", ly).attr("r", 1.5).attr("fill", s.color);
  } else {
    g.append("line").attr("x1", p.x0).attr("x2", p.x0 + 50).attr("y1", ly).attr("y2", ly)
      .attr("stroke", s.color).attr("stroke-width", s.name.endsWith("Edmonton") ? 3 : 2)
      .attr("stroke-dasharray", s.dash);
  }
  g.append("text").attr("x", p.x0 + 56).attr("y", ly).attr("dy", "0.36em")
    .attr("font-size", 21.6).attr("fill", "#000000").text(s.name);
});
</script>
</body>
</html>
